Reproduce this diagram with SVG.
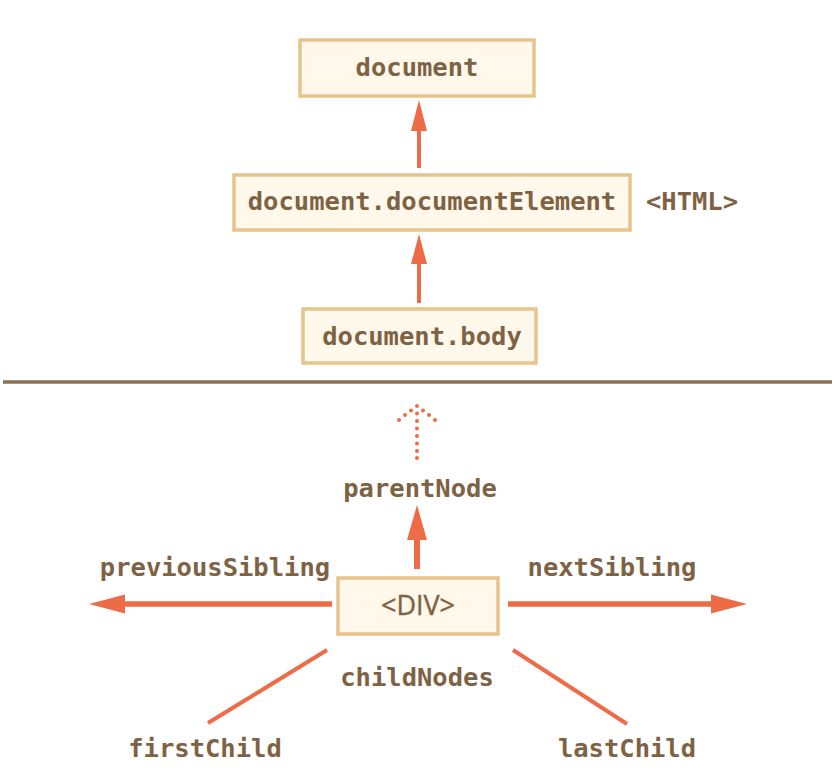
<svg xmlns="http://www.w3.org/2000/svg" width="840" height="776" viewBox="0 0 840 776">
<style>
.box{fill:#fff8eb;stroke:#e8c48d;stroke-width:3.5}
.t{font-family:"DejaVu Sans Mono","Liberation Mono",monospace;font-weight:bold;font-size:25.5px;fill:#7e6244;text-anchor:middle}
.s{font-family:"Open Sans","Noto Sans",sans-serif;font-size:27px;fill:#7e6244;stroke:#7e6244;stroke-width:0.4;text-anchor:middle}
.ln{stroke:#ee6b47;fill:none}
.ah{fill:#ee6b47}
.dot{fill:#ee6b47}
</style>
<rect width="840" height="776" fill="#ffffff"/>
<g id="node-document">
<rect class="box" x="300" y="40" width="234" height="56"/>
<text class="t" x="417" y="76">document</text>
</g>
<g id="node-documentElement">
<rect class="box" x="234" y="175" width="396" height="55"/>
<text class="t" x="432" y="210">document.documentElement</text>
</g>
<text id="label-html" class="t" x="692" y="210">&lt;HTML&gt;</text>
<g id="node-body">
<rect class="box" x="303" y="309" width="233" height="54"/>
<text class="t" x="422" y="345">document.body</text>
</g>
<line id="divider" x1="3" y1="382" x2="832" y2="382" stroke="#8c7050" stroke-width="3.3"/>
<g id="node-div">
<rect class="box" x="338" y="578" width="160" height="56"/>
<text class="s" x="418" y="615">&lt;DIV&gt;</text>
</g>
<g id="labels">
<text class="t" x="420" y="497">parentNode</text>
<text class="t" x="215" y="576">previousSibling</text>
<text class="t" x="612" y="576">nextSibling</text>
<text class="t" x="417" y="686">childNodes</text>
<text class="t" x="205" y="757">firstChild</text>
<text class="t" x="627" y="757">lastChild</text>
</g>
<g id="connectors">
<line class="ln" x1="419" y1="168" x2="419" y2="128" stroke-width="4"/>
<polygon class="ah" points="419,100 411,131 427,131"/>
<line class="ln" x1="419" y1="303" x2="419" y2="261" stroke-width="4"/>
<polygon class="ah" points="419,234 411,264 427,264"/>
<g id="dotted-arrow">
<circle class="dot" cx="417" cy="406" r="2"/>
<circle class="dot" cx="417" cy="413.5" r="2"/>
<circle class="dot" cx="417" cy="421" r="2"/>
<circle class="dot" cx="417" cy="428.5" r="2"/>
<circle class="dot" cx="417" cy="436" r="2"/>
<circle class="dot" cx="417" cy="443.5" r="2"/>
<circle class="dot" cx="417" cy="451" r="2"/>
<circle class="dot" cx="417" cy="458" r="2"/>
<circle class="dot" cx="411" cy="410.5" r="2"/>
<circle class="dot" cx="405" cy="415" r="2"/>
<circle class="dot" cx="399" cy="420" r="2"/>
<circle class="dot" cx="423" cy="410.5" r="2"/>
<circle class="dot" cx="429" cy="415" r="2"/>
<circle class="dot" cx="435" cy="420" r="2"/>
</g>
<line class="ln" x1="417" y1="569" x2="417" y2="538" stroke-width="6"/>
<polygon class="ah" points="417,505 407,540 427,540"/>
<line class="ln" x1="332" y1="604" x2="122" y2="604" stroke-width="5.5"/>
<polygon class="ah" points="89,604 125,594.5 125,613.5"/>
<line class="ln" x1="508" y1="604" x2="714" y2="604" stroke-width="5.5"/>
<polygon class="ah" points="747,604 711,594.5 711,613.5"/>
<line class="ln" x1="327" y1="650" x2="208" y2="723" stroke-width="4"/>
<line class="ln" x1="513" y1="650" x2="627" y2="724" stroke-width="4"/>
</g>
</svg>
